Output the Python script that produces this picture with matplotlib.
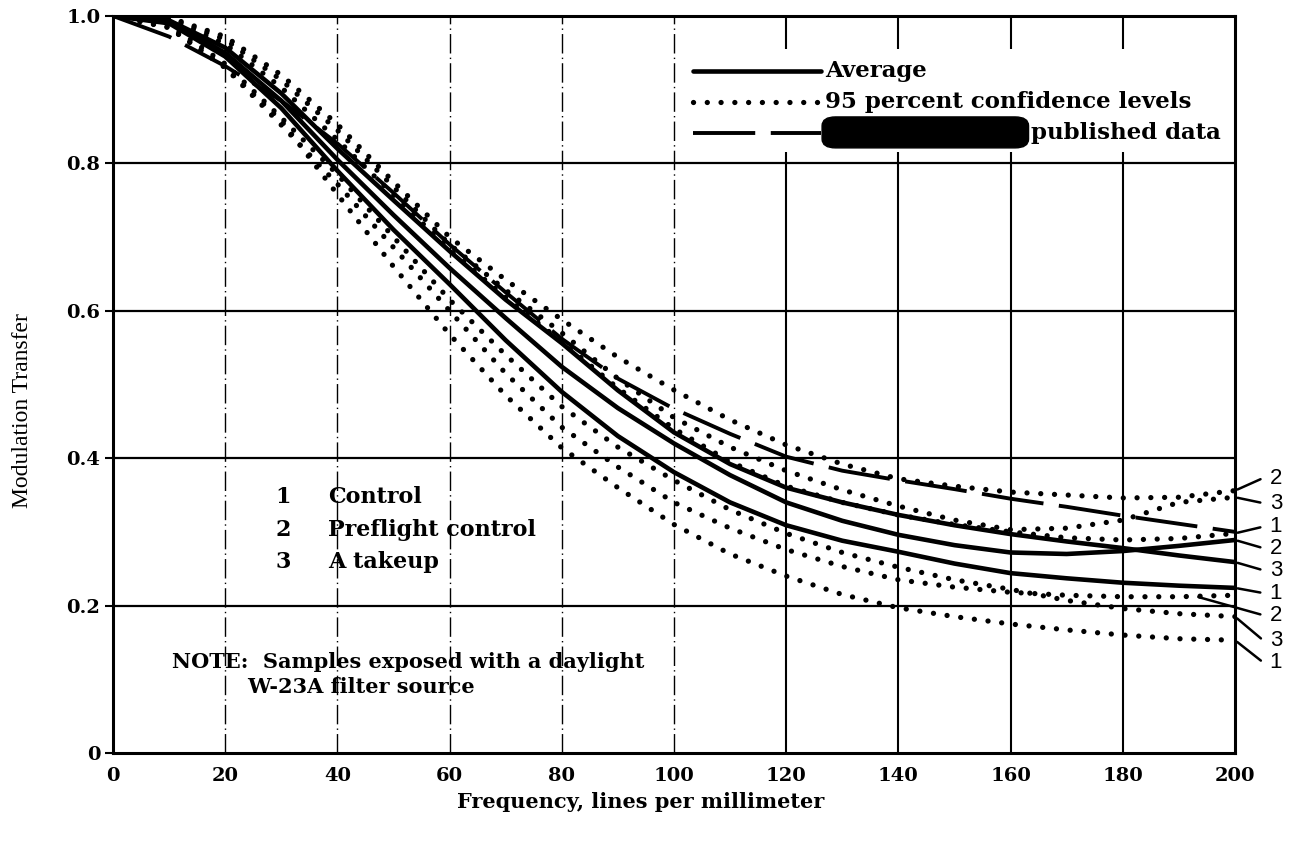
import numpy as np
import matplotlib.pyplot as plt
from matplotlib.patches import Rectangle, FancyBboxPatch
from matplotlib.lines import Line2D

# Frequency, lines per millimeter
freq = [0, 10, 20, 30, 40, 50, 60, 70, 80, 90, 100,
        110, 120, 130, 140, 150, 160, 170, 180, 190, 200]

# averages (solid)
avg_control = [1.0, 0.99, 0.945, 0.875, 0.79, 0.71, 0.636, 0.56, 0.49, 0.43, 0.381,
               0.34, 0.309, 0.288, 0.273, 0.257, 0.244, 0.237, 0.231, 0.227, 0.224]
avg_preflight = [1.0, 0.992, 0.95, 0.885, 0.805, 0.73, 0.658, 0.59, 0.524, 0.468, 0.42,
                 0.377, 0.34, 0.315, 0.296, 0.282, 0.272, 0.27, 0.274, 0.281, 0.289]
avg_takeup = [1.0, 0.994, 0.957, 0.895, 0.82, 0.75, 0.681, 0.615, 0.556, 0.492, 0.435,
              0.392, 0.36, 0.34, 0.323, 0.309, 0.297, 0.287, 0.278, 0.268, 0.259]

# 95 percent confidence levels (dotted)
upper_control = [1.0, 0.996, 0.962, 0.903, 0.832, 0.757, 0.683, 0.618, 0.558, 0.495, 0.44,
                 0.395, 0.362, 0.34, 0.323, 0.31, 0.30, 0.292, 0.289, 0.291, 0.298]
upper_preflight = [1.0, 0.998, 0.972, 0.92, 0.853, 0.775, 0.70, 0.642, 0.588, 0.537, 0.4925,
                   0.452, 0.418, 0.392, 0.372, 0.362, 0.354, 0.35, 0.346, 0.347, 0.356]
upper_takeup = [1.0, 0.997, 0.968, 0.913, 0.845, 0.768, 0.69, 0.628, 0.57, 0.508, 0.455,
                0.415, 0.383, 0.357, 0.335, 0.316, 0.303, 0.305, 0.316, 0.34, 0.347]
lower_control = [1.0, 0.984, 0.93, 0.858, 0.758, 0.66, 0.568, 0.485, 0.414, 0.36, 0.31,
                 0.27, 0.24, 0.215, 0.197, 0.185, 0.175, 0.167, 0.16, 0.155, 0.153]
lower_preflight = [1.0, 0.985, 0.93, 0.852, 0.772, 0.686, 0.60, 0.515, 0.442, 0.388, 0.34,
                   0.305, 0.276, 0.253, 0.235, 0.225, 0.218, 0.214, 0.212, 0.212, 0.214]
lower_takeup = [1.0, 0.988, 0.935, 0.862, 0.785, 0.70, 0.615, 0.54, 0.47, 0.415, 0.37,
                0.33, 0.298, 0.272, 0.252, 0.235, 0.222, 0.207, 0.196, 0.189, 0.185]

# published data (dashed)
published = [1.0, 0.972, 0.932, 0.885, 0.827, 0.76, 0.69, 0.625, 0.562, 0.508, 0.467,
             0.433, 0.402, 0.383, 0.37, 0.358, 0.345, 0.334, 0.322, 0.311, 0.30]

# curve number labels at the right edge, top to bottom
end_labels = ['2', '3', '1', '2', '3', '1', '2', '3', '1']
end_label_y = [0.373, 0.339, 0.307, 0.278, 0.248, 0.217, 0.187, 0.153, 0.123]
end_series = [upper_preflight, upper_takeup, upper_control,
              avg_preflight, avg_takeup, avg_control,
              lower_preflight, lower_takeup, lower_control]
end_x = [200, 200, 200, 200, 200, 200, 193, 200, 200]

serif_bold = dict(family='DejaVu Serif', weight='bold')

fig = plt.figure(figsize=(12.97, 8.49), dpi=100)
ax = fig.add_axes([0.0871, 0.1131, 0.8651, 0.8681])
ax.set_xlim(0, 200)
ax.set_ylim(0, 1.0)

# grid
for yv in [0.2, 0.4, 0.6, 0.8]:
    ax.axhline(yv, color='black', lw=1.6, zorder=1)
for xv in [20, 40, 60, 80, 100]:
    ax.axvline(xv, color='black', lw=1.0, ls=(0, (14, 3, 1, 3)), zorder=1)
for xv in [120, 140, 160, 180]:
    ax.axvline(xv, color='black', lw=1.5, zorder=1)

solid = dict(color='black', lw=3.3, solid_capstyle='round')
dotted = dict(color='black', lw=3.8, ls=(0, (0.01, 2.6)), dash_capstyle='round')
dashed = dict(color='black', lw=2.8, ls=(0, (16, 4)))

for s in [avg_control, avg_preflight, avg_takeup]:
    ax.plot(freq, s, zorder=3, **solid)
for s in [upper_control, upper_preflight, upper_takeup,
          lower_control, lower_preflight, lower_takeup]:
    ax.plot(freq, s, zorder=3, **dotted)
ax.plot(freq, published, zorder=3, **dashed)

# legend block
ax.add_patch(Rectangle((0.508, 0.815), 0.48, 0.14, transform=ax.transAxes,
                       facecolor='white', edgecolor='none', zorder=4))
leg_rows = [0.925, 0.883, 0.841]
for row, style in zip(leg_rows, [solid, dotted, dashed]):
    ax.add_line(Line2D([0.517, 0.631], [row, row], transform=ax.transAxes,
                       zorder=5, **style))
ax.text(0.635, leg_rows[0], 'Average', transform=ax.transAxes, va='center',
        fontsize=16.5, zorder=6, **serif_bold)
ax.text(0.635, leg_rows[1], '95 percent confidence levels', transform=ax.transAxes,
        va='center', fontsize=16.5, zorder=6, **serif_bold)
ax.add_patch(FancyBboxPatch((0.636, 0.825), 0.176, 0.034, transform=ax.transAxes,
                            boxstyle='round,pad=0.004,rounding_size=0.012',
                            facecolor='black', edgecolor='black', zorder=6))
ax.text(0.818, leg_rows[2], 'published data', transform=ax.transAxes, va='center',
        fontsize=16.5, zorder=6, **serif_bold)

# group key
key = [('1', 'Control'), ('2', 'Preflight control'), ('3', 'A takeup')]
key_y = [0.347, 0.303, 0.259]
for (num, name), yk in zip(key, key_y):
    ax.text(30.3, yk, num, ha='center', va='center', fontsize=16, **serif_bold)
    ax.text(38.3, yk, name, ha='left', va='center', fontsize=16, **serif_bold)

ax.text(10.5, 0.123, 'NOTE:  Samples exposed with a daylight', va='center',
        fontsize=15, **serif_bold)
ax.text(24.0, 0.090, 'W-23A filter source', va='center', fontsize=15, **serif_bold)

# right edge numbers with leaders
for lab, ly, s, ex in zip(end_labels, end_label_y, end_series, end_x):
    ey = np.interp(ex, freq, s)
    ax.annotate('', xy=(ex, ey), xytext=(205.0, ly), annotation_clip=False,
                arrowprops=dict(arrowstyle='-', color='black', lw=1.8))
    ax.text(207.3, ly, lab, ha='center', va='center', fontsize=16,
            family='Liberation Sans', clip_on=False)

# axes styling
for sp in ax.spines.values():
    sp.set_linewidth(2.2)
ax.set_xticks(range(0, 201, 20))
ax.set_yticks([0, 0.2, 0.4, 0.6, 0.8, 1.0])
ax.set_yticklabels(['0', '0.2', '0.4', '0.6', '0.8', '1.0'])
ax.tick_params(axis='x', length=0, pad=10)
ax.tick_params(axis='y', direction='out', length=6, width=1.5, pad=3)
for lbl in ax.get_xticklabels():
    lbl.set_fontfamily('DejaVu Serif')
    lbl.set_fontweight('bold')
    lbl.set_fontsize(14)
for lbl in ax.get_yticklabels():
    lbl.set_fontfamily('DejaVu Serif')
    lbl.set_fontweight('bold')
    lbl.set_fontsize(14)

fig.text(0.494, 0.055, 'Frequency, lines per millimeter', ha='center', va='center',
         fontsize=15, **serif_bold)
fig.text(0.017, 0.517, 'Modulation Transfer', rotation=90, ha='center', va='center',
         fontsize=17, family='Liberation Serif')

fig.savefig('out.png', dpi=100)
